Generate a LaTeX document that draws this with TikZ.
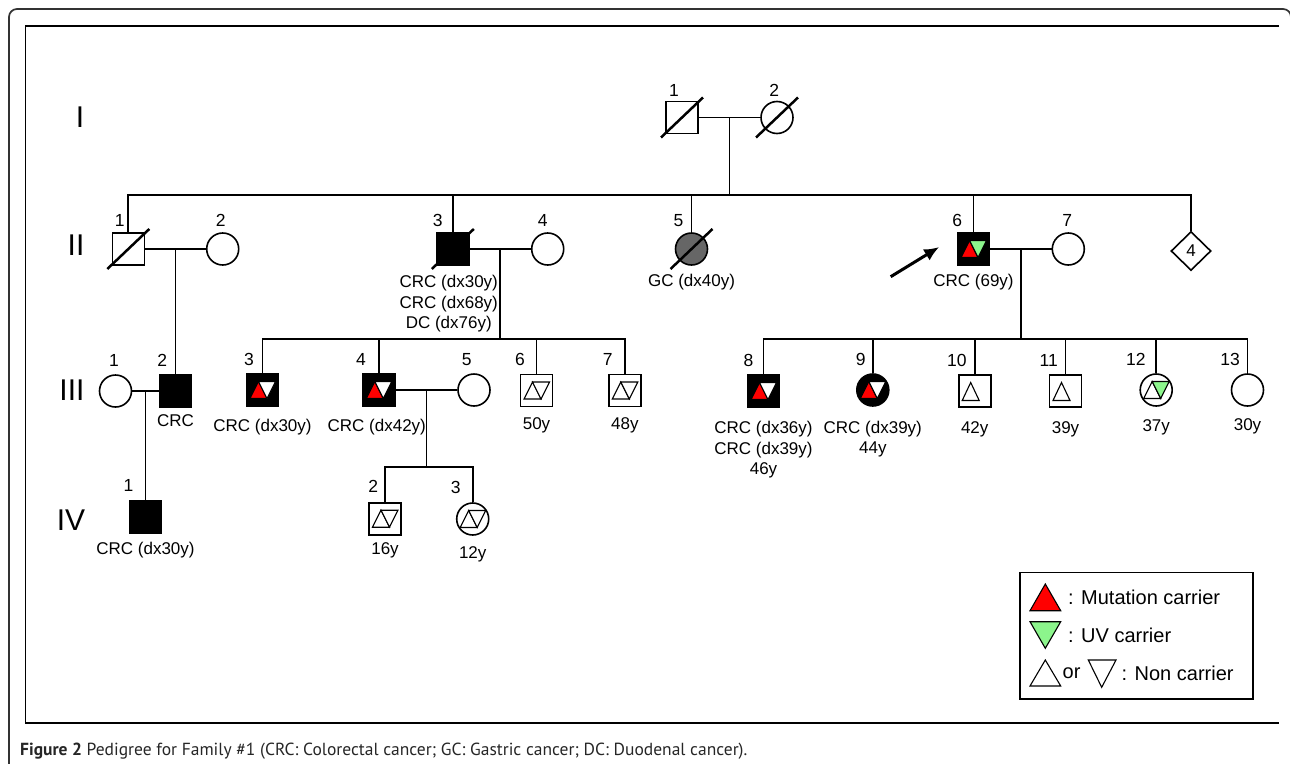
\documentclass[tikz,border=0pt]{standalone}
\usepackage{fontspec}
\setmainfont{Liberation Sans}
\newfontfamily\capfont{PT Sans}
\usetikzlibrary{positioning,calc,shapes.geometric,arrows.meta}
\definecolor{mutred}{RGB}{255,0,0}
\definecolor{uvgreen}{RGB}{140,245,140}
\definecolor{gcgray}{RGB}{102,102,102}
\newcommand{\deceased}[1]{\draw[deadline] ([shift={(-21,20)}]#1.center) -- ([shift={(21,-20)}]#1.center);}
\newcommand{\carrierpair}[3]{%
  \begin{scope}[shift={(#1.center)}]
    \draw[carrierline,fill=#2] (-12.5,8.5) -- (4.5,8.5) -- (-4,-8.5) -- cycle;
    \draw[carrierline,fill=#3] (-4,-8.5) -- (13,-8.5) -- (4.5,8.5) -- cycle;
  \end{scope}}
\newcommand{\carrierup}[2]{%
  \begin{scope}[shift={(#1.center)}]
    \draw[carrierline,fill=#2] (-12.5,9.5) -- (4.5,9.5) -- (-4,-8.5) -- cycle;
  \end{scope}}

\begin{document}
\begin{tikzpicture}[x=1pt,y=-1pt,
    male/.style={draw,rectangle,minimum size=32pt,inner sep=0pt,line width=1.6pt,fill=white},
    female/.style={draw,circle,minimum size=32pt,inner sep=0pt,line width=1.6pt,fill=white},
    sexunknown/.style={draw,diamond,minimum width=40pt,minimum height=39pt,inner sep=0pt,line width=1.6pt,font=\fontsize{17}{20}\selectfont},
    sick/.style={fill=black},
    pedline/.style={line width=1.7pt},
    deadline/.style={line width=2.5pt},
    carrierline/.style={line width=1.1pt},
    genlabel/.style={font=\fontsize{30}{30}\selectfont,inner sep=0pt},
    numlabel/.style={font=\fontsize{17.5}{17.5}\selectfont,inner sep=0pt,anchor=base},
    numright/.style={numlabel,anchor=base east},
    infotext/.style={font=\fontsize{17}{20.5}\selectfont,align=center,inner sep=0pt},
    keytext/.style={font=\fontsize{20}{20}\selectfont,inner sep=0pt,anchor=west},
    probarrow/.style={line width=3pt,-{Latex[length=15pt,width=13pt]}}]
    \useasboundingbox (0,0) rectangle (1290,763);
    % frames
    \draw[pedline,black!80,rounded corners=8pt] (9,780) -- (9,9) -- (1291,9) -- (1291,780);
    \draw[pedline] (1279,26) -- (25.5,26) -- (25.5,723) -- (1279,723);

    % generation numbers
    \node[genlabel] (gI) at (80,117) {I};
    \node[genlabel] (gII) at (76,245) {II};
    \node[genlabel] (gIII) at (72,390) {III};
    \node[genlabel] (gIV) at (71,520.5) {IV};

    % generation I
    \node[male] (I1) at (682,117.5) {};
    \node[female] (I2) at (777,117.5) {};
    \deceased{I1}
    \deceased{I2}
    \node[numlabel,xshift=-8pt,yshift=4.6pt] (nI1) at (I1.north) {1};
    \node[numlabel,xshift=-2.7pt,yshift=4.6pt] (nI2) at (I2.north) {2};

    % generation II
    \node[male] (II1) at (128.3,249) {};
    \node[female] (II2) at (222.7,249) {};
    \node[male,sick] (II3) at (452.8,249) {};
    \node[female] (II4) at (547.7,249) {};
    \node[female,fill=gcgray] (II5) at (691.5,249) {};
    \node[male,sick] (II6) at (973.5,249) {};
    \node[female] (II7) at (1068.3,249) {};
    \node[sexunknown] (II8) at (1191,251) {4};
    \deceased{II1}
    \deceased{II3}
    \deceased{II5}
    \carrierpair{II6}{mutred}{uvgreen}
    \node[numright,xshift=-3.6pt,yshift=5.5pt] (nII1) at (II1.north) {1};
    \node[numlabel,xshift=-2pt,yshift=5.5pt] (nII2) at (II2.north) {2};
    \node[numright,xshift=-10pt,yshift=5.5pt] (nII3) at (II3.north) {3};
    \node[numlabel,xshift=-5pt,yshift=5.5pt] (nII4) at (II4.north) {4};
    \node[numright,xshift=-8pt,yshift=5.5pt] (nII5) at (II5.north) {5};
    \node[numright,xshift=-11.3pt,yshift=5.5pt] (nII6) at (II6.north) {6};
    \node[numlabel,xshift=-1pt,yshift=5.5pt] (nII7) at (II7.north) {7};
    \node[infotext,below=9.5pt of II3,xshift=-4pt] (tII3) {CRC (dx30y)\\CRC (dx68y)\\DC (dx76y)};
    \node[infotext,below=8pt of II5] (tII5) {GC (dx40y)};
    \node[infotext,below=8.6pt of II6] (tII6) {CRC (69y)};

    % generation III
    \node[female] (III1) at (115.5,391) {};
    \node[male,sick] (III2) at (175.5,391) {};
    \node[male,sick] (III3) at (262.5,390) {};
    \node[male,sick] (III4) at (378.8,390) {};
    \node[female] (III5) at (474,390) {};
    \node[male] (III6) at (536.5,390.5) {};
    \node[male] (III7) at (624.8,390.5) {};
    \node[male,sick] (III8) at (763.5,391) {};
    \node[female,sick] (III9) at (872.8,390) {};
    \node[male] (III10) at (974.7,391) {};
    \node[male] (III11) at (1065.5,391) {};
    \node[female] (III12) at (1156.2,390) {};
    \node[female] (III13) at (1247.5,390) {};
    \carrierpair{III3}{mutred}{white}
    \carrierpair{III4}{mutred}{white}
    \carrierpair{III6}{white}{white}
    \carrierpair{III7}{white}{white}
    \carrierpair{III8}{mutred}{white}
    \carrierpair{III9}{mutred}{white}
    \carrierup{III10}{white}
    \carrierup{III11}{white}
    \carrierpair{III12}{white}{uvgreen}
    \node[numlabel,xshift=-1.5pt,yshift=8pt] (nIII1) at (III1.north) {1};
    \node[numright,xshift=-8.3pt,yshift=8pt] (nIII2) at (III2.north) {2};
    \node[numright,xshift=-8.5pt,yshift=8pt] (nIII3) at (III3.north) {3};
    \node[numright,xshift=-12.8pt,yshift=8pt] (nIII4) at (III4.north) {4};
    \node[numlabel,xshift=-7.3pt,yshift=8pt] (nIII5) at (III5.north) {5};
    \node[numright,xshift=-11.5pt,yshift=8pt] (nIII6) at (III6.north) {6};
    \node[numright,xshift=-12pt,yshift=8pt] (nIII7) at (III7.north) {7};
    \node[numright,xshift=-10pt,yshift=8pt] (nIII8) at (III8.north) {8};
    \node[numright,xshift=-7pt,yshift=8pt] (nIII9) at (III9.north) {9};
    \node[numright,xshift=-8pt,yshift=8pt] (nIII10) at (III10.north) {10};
    \node[numright,xshift=-7.5pt,yshift=8pt] (nIII11) at (III11.north) {11};
    \node[numright,xshift=-10.4pt,yshift=8pt] (nIII12) at (III12.north) {12};
    \node[numright,xshift=-7.5pt,yshift=8pt] (nIII13) at (III13.north) {13};
    \node[infotext,below=6.8pt of III2] (tIII2) {CRC};
    \node[infotext,below=11.8pt of III3] (tIII3) {CRC (dx30y)};
    \node[infotext,below=11.8pt of III4,xshift=-2pt] (tIII4) {CRC (dx42y)};
    \node[infotext,below=10pt of III6] (tIII6) {50y};
    \node[infotext,below=10pt of III7] (tIII7) {48y};
    \node[infotext,below=13.5pt of III8] (tIII8) {CRC (dx36y)\\CRC (dx39y)\\46y};
    \node[infotext,below=13.8pt of III9] (tIII9) {CRC (dx39y)\\44y};
    \node[infotext,below=13.5pt of III10] (tIII10) {42y};
    \node[infotext,below=13.5pt of III11] (tIII11) {39y};
    \node[infotext,below=12.8pt of III12] (tIII12) {37y};
    \node[infotext,below=11.8pt of III13] (tIII13) {30y};

    % generation IV
    \node[male,sick] (IV1) at (145.5,517.2) {};
    \node[male] (IV2) at (385,518.7) {};
    \node[female] (IV3) at (472.7,519) {};
    \carrierpair{IV2}{white}{white}
    \carrierpair{IV3}{white}{white}
    \node[numright,xshift=-12pt,yshift=9pt] (nIV1) at (IV1.north) {1};
    \node[numright,xshift=-6.7pt,yshift=9pt] (nIV2) at (IV2.north) {2};
    \node[numright,xshift=-12pt,yshift=9pt] (nIV3) at (IV3.north) {3};
    \node[infotext,below=8.3pt of IV1] (tIV1) {CRC (dx30y)};
    \node[infotext,below=6.8pt of IV2] (tIV2) {16y};
    \node[infotext,below=10.5pt of IV3] (tIV3) {12y};

    % matings and sibships
    \coordinate (m1) at ($(I1.east)!0.5!(I2.west)$);
    \coordinate (s1) at (m1 |- 0,195);
    \draw[pedline] (I1) -- (I2);
    \draw[pedline] (m1) -- (s1);
    \draw[pedline] (II1) |- (s1) -| (II8);
    \foreach \p in {II3,II5,II6} \draw[pedline] (\p) -- (\p |- s1);

    \coordinate (m2) at ($(II1.east)!0.5!(II2.west)$);
    \draw[pedline] (II1) -- (II2);
    \draw[pedline] (m2) -- (m2 |- III2.north);

    \coordinate (m3) at ($(II3.east)!0.5!(II4.west)$);
    \coordinate (s3) at (m3 |- 0,339);
    \draw[pedline] (II3) -- (II4);
    \draw[pedline] (m3) -- (s3);
    \draw[pedline] (III3) |- (s3) -| (III7);
    \foreach \p in {III4,III6} \draw[pedline] (\p) -- (\p |- s3);

    \coordinate (m6) at ($(II6.east)!0.5!(II7.west)$);
    \coordinate (s6) at (m6 |- 0,339);
    \draw[pedline] (II6) -- (II7);
    \draw[pedline] (m6) -- (s6);
    \draw[pedline] (III8) |- (s6) -| (III13);
    \foreach \p in {III9,III10,III11,III12} \draw[pedline] (\p) -- (\p |- s6);

    \coordinate (m7) at ($(III1.east)!0.5!(III2.west)$);
    \draw[pedline] (III1) -- (III2);
    \draw[pedline] (m7) -- (m7 |- IV1.north);

    \coordinate (m8) at ($(III4.east)!0.5!(III5.west)$);
    \coordinate (s8) at (m8 |- 0,467.3);
    \draw[pedline] (III4) -- (III5);
    \draw[pedline] (m8) -- (s8);
    \draw[pedline] (IV2) |- (s8) -| (IV3);

    % proband
    \coordinate (pb) at (890.7,276.7);
    \draw[probarrow] (pb) -- ([xshift=-17.5pt,yshift=2pt]II6.west);

    % legend
    \node[draw,pedline,minimum width=233pt,minimum height=126.6pt,anchor=north west,inner sep=0pt] (legend) at (1019.3,571.7) {};
    \draw[carrierline,fill=mutred] (1030,610.7) -- (1060.7,610.7) -- (1045.3,584) -- cycle;
    \draw[carrierline,fill=uvgreen] (1030,621.7) -- (1060.7,621.7) -- (1045.3,648.3) -- cycle;
    \draw[carrierline] (1030,686) -- (1060.7,686) -- (1045.3,660) -- cycle;
    \draw[carrierline] (1088.3,660) -- (1116,660) -- (1101.7,687.3) -- cycle;
    \node[keytext] (kmut) at (1068,597) {: Mutation carrier};
    \node[keytext] (kuv) at (1068,635) {: UV carrier};
    \node[keytext] (kor) at (1062.5,673.5) {or};
    \node[keytext] (knon) at (1121.5,673.5) {: Non carrier};

    % caption
    \node[anchor=base west,inner sep=0pt,font=\capfont\fontsize{17.5}{20}\selectfont,text=black!85] (caption) at (20,755.5) {\textbf{Figure 2} Pedigree for Family \#1 (CRC: Colorectal cancer; GC: Gastric cancer; DC: Duodenal cancer).};
\end{tikzpicture}
\end{document}
